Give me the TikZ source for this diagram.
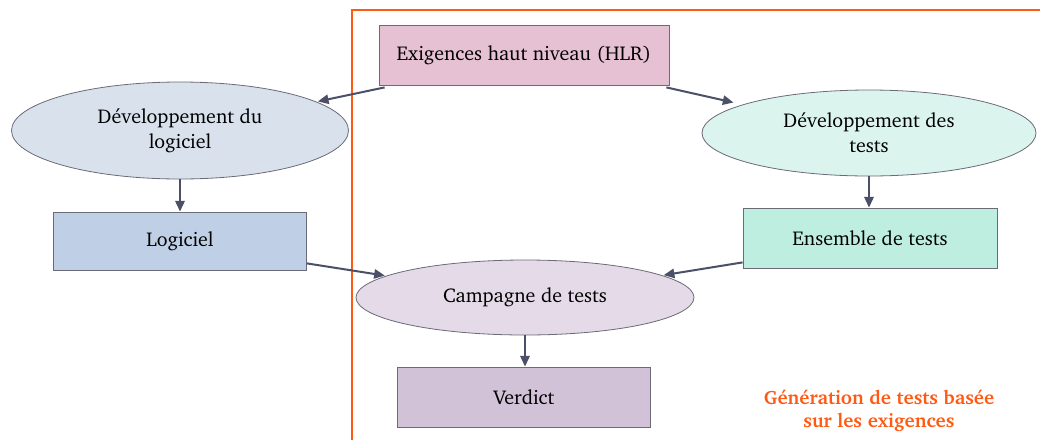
\documentclass[tikz,border=0pt]{standalone}
\usepackage[T1]{fontenc}
\usepackage{charter}
\usetikzlibrary{shapes.geometric,arrows.meta}
\definecolor{edgec}{HTML}{4B5068}
\definecolor{bordc}{HTML}{6A6A78}
\definecolor{orng}{HTML}{FF5A14}
\definecolor{chlr}{HTML}{E6C0D3}
\definecolor{cdl}{HTML}{D9E2EC}
\definecolor{clg}{HTML}{BFCFE5}
\definecolor{cdt}{HTML}{DCF4EE}
\definecolor{cet}{HTML}{BDEEE0}
\definecolor{ccp}{HTML}{E5DBE8}
\definecolor{cvd}{HTML}{D1C2D8}
\tikzset{
  x=0.75pt, y=-0.75pt,
  base/.style={draw=bordc, line width=0.6pt, align=center, inner sep=0pt,
    font=\fontsize{15}{18.75}\selectfont},
  boxnode/.style={base, rectangle},
  ellnode/.style={base, ellipse},
  conn/.style={draw=edgec, line width=1.5pt, -{Triangle[length=8pt,width=7pt]}},
}
\begin{document}
\begin{tikzpicture}
\useasboundingbox (0,0) rectangle (1040,440);
\draw[orng, line width=1.5pt] (352,440) -- (352,10) -- (1040,10);

\node[boxnode, fill=chlr, minimum width=290*0.75pt, minimum height=60*0.75pt] (hlr) at (524,55) {Exigences haut niveau (HLR)};
\node[ellnode, fill=cdl, minimum width=337*0.75pt, minimum height=97*0.75pt] (dl) at (180,130.5) {D\'eveloppement du\\logiciel};
\node[boxnode, fill=clg, minimum width=253*0.75pt, minimum height=58*0.75pt] (lg) at (180,241) {Logiciel};
\node[ellnode, fill=cdt, minimum width=334*0.75pt, minimum height=86*0.75pt] (dt) at (869,133) {D\'eveloppement des\\tests};
\node[boxnode, fill=cet, minimum width=254*0.75pt, minimum height=60*0.75pt] (et) at (870,238) {Ensemble de tests};
\node[ellnode, fill=ccp, minimum width=338*0.75pt, minimum height=75*0.75pt] (cp) at (525,297.5) {Campagne de tests};
\node[boxnode, fill=cvd, minimum width=253*0.75pt, minimum height=60*0.75pt] (vd) at (524,397) {Verdict};
\node[text=orng, align=center, font=\fontsize{14.5}{17.25}\selectfont\bfseries] (lbl) at (879,411) {G\'en\'eration de tests bas\'ee\\sur les exigences};

\draw[conn, shorten >=1pt] ([xshift=6*0.75pt, yshift=-2*0.75pt]hlr.south west) -- (dl);
\draw[conn, shorten >=7pt] ([xshift=-3*0.75pt, yshift=-2*0.75pt]hlr.south east) -- (dt);
\draw[conn] (dl.south) -- (lg.north);
\draw[conn] (dt.south) -- (dt.south |- et.north);
\draw[conn, shorten >=1pt] ([yshift=7*0.75pt]lg.south east) -- (cp);
\draw[conn, shorten >=1pt] ([yshift=6*0.75pt]et.south west) -- (cp);
\draw[conn] (cp.south) -- (cp.south |- vd.north);
\end{tikzpicture}
\end{document}
